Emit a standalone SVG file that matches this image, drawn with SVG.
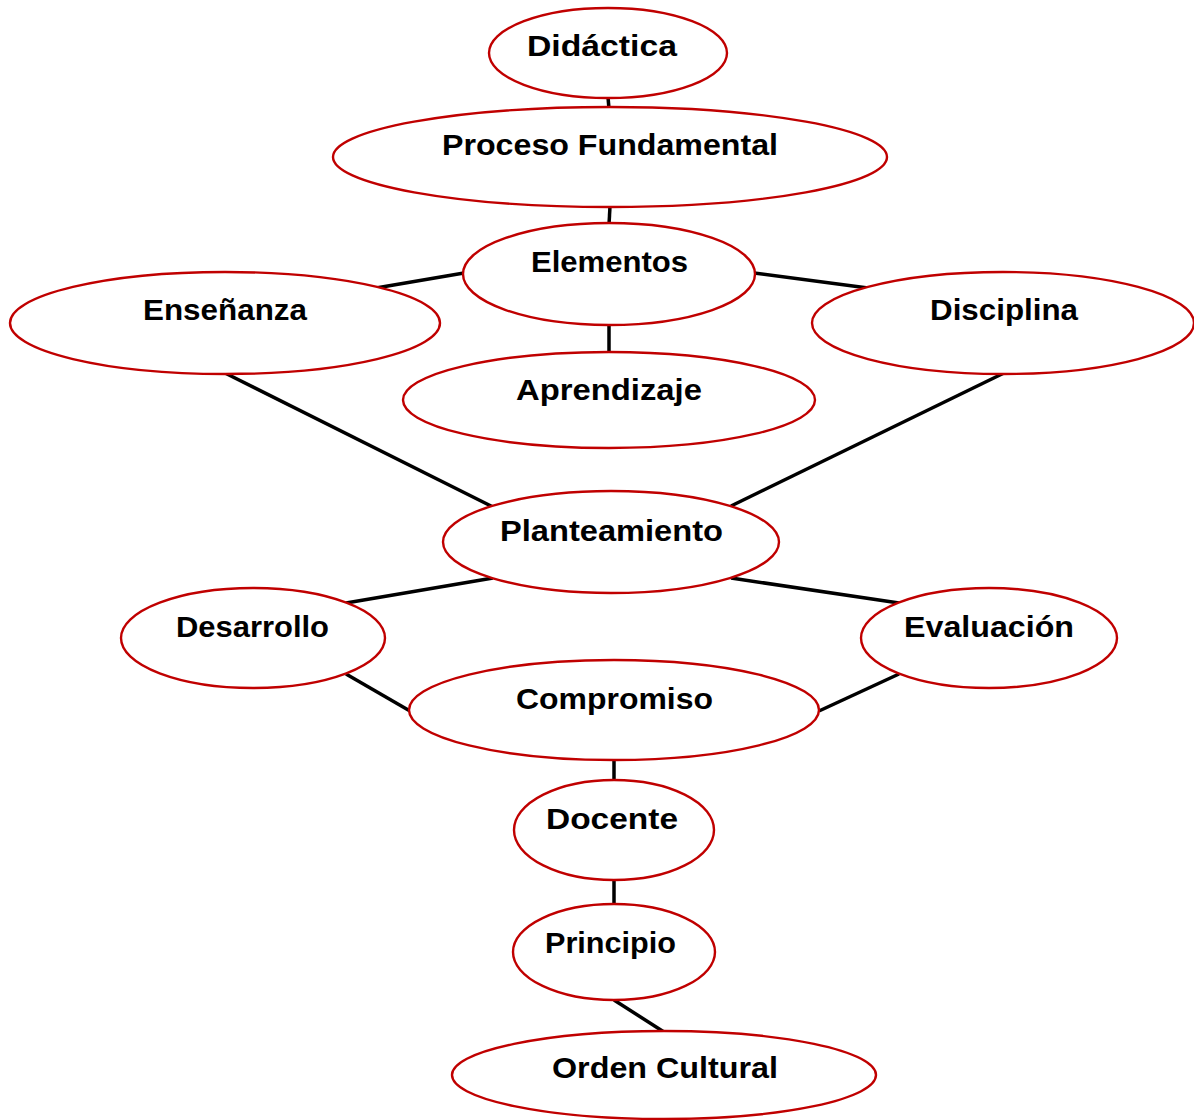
<svg xmlns="http://www.w3.org/2000/svg" width="1194" height="1120" viewBox="0 0 1194 1120">
  <style>
    .node ellipse { fill: #ffffff; stroke: #C00000; stroke-width: 2.4; }
    .node text { font-family: "Liberation Sans", "DejaVu Sans", Arial, sans-serif; font-weight: bold; font-size: 30px; fill: #000000; text-anchor: middle; }
    #connectors line { stroke: #000000; stroke-width: 3.5; }
  </style>
  <rect width="1194" height="1120" fill="#ffffff"/>

  <!-- links between concepts -->
  <g id="connectors">
    <line x1="608" y1="97" x2="609" y2="109"/>
    <line x1="610" y1="206" x2="609" y2="225"/>
    <line x1="464" y1="273" x2="376" y2="288"/>
    <line x1="754" y1="273" x2="868" y2="288"/>
    <line x1="609" y1="324" x2="609" y2="353"/>
    <line x1="225" y1="373" x2="493" y2="507"/>
    <line x1="1004" y1="373" x2="731" y2="506"/>
    <line x1="493" y1="578" x2="346" y2="603"/>
    <line x1="731" y1="578" x2="899" y2="603"/>
    <line x1="346" y1="674" x2="410" y2="711"/>
    <line x1="899" y1="674" x2="819" y2="711"/>
    <line x1="614" y1="760" x2="614" y2="781"/>
    <line x1="614" y1="880" x2="614" y2="905"/>
    <line x1="614" y1="1000" x2="664" y2="1032"/>
  </g>

  <g id="didactica" class="node">
    <ellipse cx="608" cy="53" rx="119" ry="45"/>
    <text x="602" y="56" textLength="150" lengthAdjust="spacingAndGlyphs">Didáctica</text>
  </g>
  <g id="proceso-fundamental" class="node">
    <ellipse cx="610" cy="157" rx="277" ry="50"/>
    <text x="610" y="155" textLength="336" lengthAdjust="spacingAndGlyphs">Proceso Fundamental</text>
  </g>
  <g id="elementos" class="node">
    <ellipse cx="609" cy="274" rx="146" ry="51"/>
    <text x="609.5" y="272" textLength="157" lengthAdjust="spacingAndGlyphs">Elementos</text>
  </g>
  <g id="ensenanza" class="node">
    <ellipse cx="225" cy="323" rx="215" ry="51"/>
    <text x="225" y="320" textLength="164" lengthAdjust="spacingAndGlyphs">Enseñanza</text>
  </g>
  <g id="disciplina" class="node">
    <ellipse cx="1003" cy="323" rx="191" ry="51"/>
    <text x="1004" y="320" textLength="148" lengthAdjust="spacingAndGlyphs">Disciplina</text>
  </g>
  <g id="aprendizaje" class="node">
    <ellipse cx="609" cy="400" rx="206" ry="48"/>
    <text x="609" y="400" textLength="186" lengthAdjust="spacingAndGlyphs">Aprendizaje</text>
  </g>
  <g id="planteamiento" class="node">
    <ellipse cx="611" cy="542" rx="168" ry="51"/>
    <text x="611.5" y="541" textLength="223" lengthAdjust="spacingAndGlyphs">Planteamiento</text>
  </g>
  <g id="desarrollo" class="node">
    <ellipse cx="253" cy="638" rx="132" ry="50"/>
    <text x="252.5" y="637" textLength="153" lengthAdjust="spacingAndGlyphs">Desarrollo</text>
  </g>
  <g id="evaluacion" class="node">
    <ellipse cx="989" cy="638" rx="128" ry="50"/>
    <text x="989" y="637" textLength="170" lengthAdjust="spacingAndGlyphs">Evaluación</text>
  </g>
  <g id="compromiso" class="node">
    <ellipse cx="614" cy="710" rx="205" ry="50"/>
    <text x="614.5" y="709" textLength="197" lengthAdjust="spacingAndGlyphs">Compromiso</text>
  </g>
  <g id="docente" class="node">
    <ellipse cx="614" cy="830" rx="100" ry="50"/>
    <text x="612" y="829" textLength="132" lengthAdjust="spacingAndGlyphs">Docente</text>
  </g>
  <g id="principio" class="node">
    <ellipse cx="614" cy="952" rx="101" ry="48"/>
    <text x="610.5" y="953" textLength="131" lengthAdjust="spacingAndGlyphs">Principio</text>
  </g>
  <g id="orden-cultural" class="node">
    <ellipse cx="664" cy="1075" rx="212" ry="44"/>
    <text x="665" y="1078" textLength="226" lengthAdjust="spacingAndGlyphs">Orden Cultural</text>
  </g>
</svg>
